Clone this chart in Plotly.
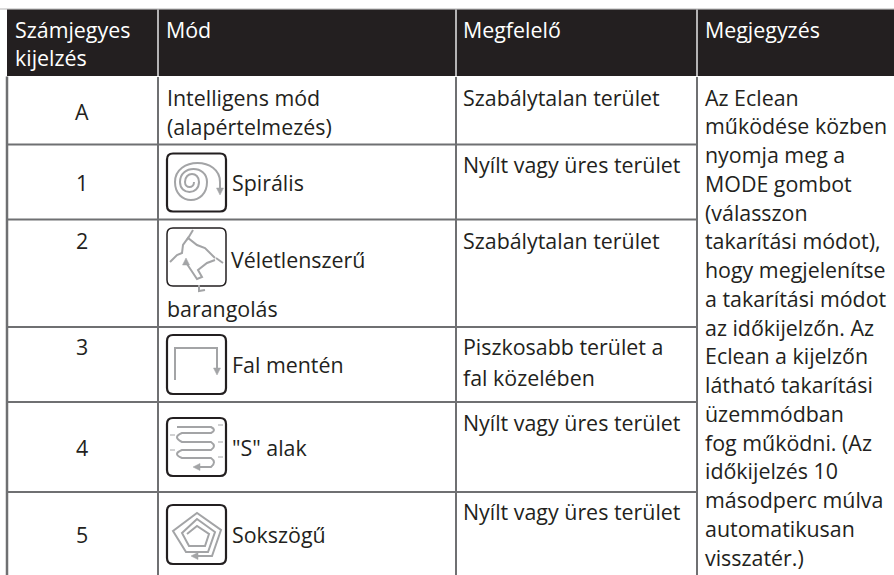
import plotly.graph_objects as go

W, H = 894, 575
INK = "#231f20"
RULE = "#6f7072"
ICON = "#a3a4a6"
FONT = "Open Sans"
SIZE = 21.4
DY = -1

headers = [["Számjegyes", "kijelzés"], ["Mód"], ["Megfelelő"], ["Megjegyzés"]]
digits = ["A", "1", "2", "3", "4", "5"]
modes = ["Intelligens mód", "(alapértelmezés)", "Spirális", "Véletlenszerű", "barangolás",
         "Fal mentén", "\"S\" alak", "Sokszögű"]
suitable = ["Szabálytalan terület", "Nyílt vagy üres terület", "Szabálytalan terület",
            "Piszkosabb terület a", "fal közelében", "Nyílt vagy üres terület", "Nyílt vagy üres terület"]
note = ["Az Eclean", "működése közben", "nyomja meg a", "MODE gombot", "(válasszon",
        "takarítási módot),", "hogy megjelenítse", "a takarítási módot", "az időkijelzőn. Az",
        "Eclean a kijelzőn", "látható takarítási", "üzemmódban", "fog működni. (Az",
        "időkijelzés 10", "másodperc múlva", "automatikusan", "visszatér.)"]

fig = go.Figure()
shapes, ann = [], []


def text(x, y, s, color=INK, anchor="left", size=SIZE):
    ann.append(dict(x=x, y=y + DY, text=s, showarrow=False, xanchor=anchor, yanchor="middle",
                    xref="x", yref="y", borderpad=0, borderwidth=0,
                    font=dict(family=FONT, size=size, color=color)))


def line(x0, y0, x1, y1, color=RULE, width=2):
    shapes.append(dict(type="line", x0=x0, y0=y0, x1=x1, y1=y1, xref="x", yref="y",
                       line=dict(color=color, width=width)))


def path(d, color=ICON, width=2, fill=None):
    shapes.append(dict(type="path", path=d, xref="x", yref="y",
                       line=dict(color=color, width=width),
                       fillcolor=fill if fill else "rgba(0,0,0,0)"))


def poly(pts, **kw):
    path("M " + " L ".join(f"{x},{y}" for x, y in pts), **kw)


def head(tip, direction):
    x, y = tip
    s = 3.5
    L = 7
    if direction == "down":
        pts = [(x, y), (x - s, y - L), (x + s, y - L)]
    elif direction == "left":
        pts = [(x, y), (x + L, y - s), (x + L, y + s)]
    else:
        pts = [(x, y), (x - s, y + L), (x + s, y + L)]
    path("M " + " L ".join(f"{a},{b}" for a, b in pts) + " Z", width=0.5, fill=ICON)


def box(x0, y0, x1, y1, width=2.2):
    r = 6
    d = (f"M {x0+r},{y0} L {x1-r},{y0} Q {x1},{y0} {x1},{y0+r} L {x1},{y1-r} Q {x1},{y1} {x1-r},{y1} "
         f"L {x0+r},{y1} Q {x0},{y1} {x0},{y1-r} L {x0},{y0+r} Q {x0},{y0} {x0+r},{y0} Z")
    path(d, color=INK, width=width)


def semi(x0, x1, y, up, rise):
    k = rise * 4 / 3 * (-1 if up else 1)
    return f"C {x0},{y+k} {x1},{y+k} {x1},{y}"


# header band and grid
line(0, 9, W, 9, color="#b5b5b5", width=1)
shapes.append(dict(type="rect", x0=7, y0=9.5, x1=W, y1=76, xref="x", yref="y",
                   fillcolor=INK, line=dict(width=0)))
for x in (158, 456, 697):
    line(x, 9.5, x, 76, color="#e6e6e6", width=1.5)
    line(x, 77, x, H)
line(7, 76.5, 7, H, width=2.5)
line(7, 144.5, 697, 144.5)
line(7, 219.5, 697, 219.5)
line(7, 327, 697, 327)
line(7, 402, 697, 402)
line(7, 492, 697, 492)

# header text
text(15, 30, headers[0][0], color="white")
text(15, 58, headers[0][1], color="white")
text(166, 30, headers[1][0], color="white")
text(463, 30, headers[2][0], color="white")
text(705, 30, headers[3][0], color="white")

for s, y in zip(digits, (112, 183, 241, 347, 448, 535)):
    text(82, y, s, anchor="center")

mode_x = (167, 167, 232, 231, 167, 232, 232, 232)
mode_y = (98, 127, 183, 260, 309, 365, 448, 535)
for s, x, y in zip(modes, mode_x, mode_y):
    text(x, y, s)

for s, y in zip(suitable, (98, 165, 241, 347, 378, 423, 512)):
    text(463, y, s)

for i, s in enumerate(note):
    text(705, 98 + i * 28.75, s)

# icon 1: spiral
box(167, 153.5, 226, 211.5)
y = 182
d = f"M 194,{y} " + " ".join([
    semi(194, 185, y, False, 5),
    semi(185, 199, y, True, 8),
    semi(199, 180, y, False, 10),
    semi(180, 207, y, True, 13),
    semi(207, 175, y, False, 18),
    semi(175, 220, y, True, 19),
]) + " L 220,188"
path(d)
head((220, 195), "down")

# icon 2: random walk
box(167, 228, 226, 286, width=1.5)
poly([(193, 230), (187, 240)])
poly([(170, 262), (177, 255), (182, 253), (183, 245), (188, 238), (197, 245), (205, 248), (215, 258)])
poly([(216, 258), (223, 263)])
poly([(215, 260), (207, 263), (198, 270), (202, 277), (197, 279), (187, 264)])
head((186, 258), "up")
poly([(199, 285), (199, 291), (205, 290)])

# icon 3: wall follow
box(167, 335, 226, 394)
poly([(175, 380), (175, 348), (217, 348), (217, 370)])
head((217, 375), "down")

# icon 4: S shape
box(167, 418, 226, 476)
d = ("M 177,427 L 211,427 Q 217,430 211,433 L 182,433 Q 172,437 182,442 L 211,442 Q 217,446 211,450 "
     "L 182,450 Q 172,454 182,458 L 211,458 Q 217,462 211,467 L 198,467")
path(d)
head((193, 467), "left")
for a, b, yy in ((170, 175, 435), (170, 175, 450), (218, 223, 425), (218, 223, 442), (218, 223, 457)):
    poly([(a, yy), (b, yy)], width=1)

# icon 5: polygon spiral
box(167, 505, 226, 564)
poly([(187, 534), (197, 526), (209, 534), (205, 546), (189, 546), (182, 533), (197, 519), (215, 532),
      (208, 552), (186, 552), (173, 531), (197, 513), (221, 530), (212, 556), (197, 556)])
head((191, 556), "left")

fig.add_trace(go.Scatter(x=[0, W], y=[0, H], mode="markers", marker=dict(opacity=0), hoverinfo="skip", showlegend=False))
fig.update_layout(
    width=W, height=H, margin=dict(l=0, r=0, t=0, b=0),
    paper_bgcolor="white", plot_bgcolor="white", showlegend=False,
    xaxis=dict(range=[0, W], visible=False, fixedrange=True),
    yaxis=dict(range=[H, 0], visible=False, fixedrange=True),
    shapes=shapes, annotations=ann,
)
fig.write_html("out.html", config={"displayModeBar": False},
               post_script="document.body.style.margin='0';document.documentElement.style.overflow='hidden';")
